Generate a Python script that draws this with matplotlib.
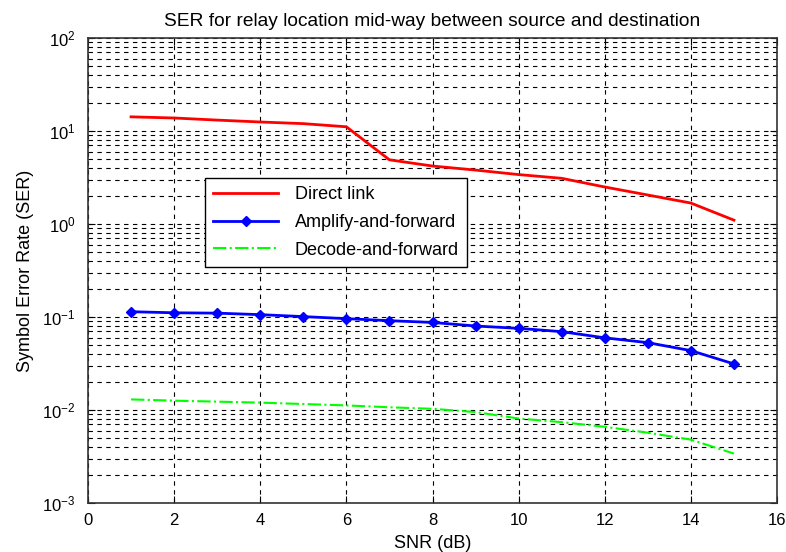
import matplotlib
matplotlib.use("Agg")
import matplotlib.pyplot as plt
from matplotlib.ticker import LogLocator, NullFormatter

plt.rcParams['font.family'] = ['Liberation Sans', 'DejaVu Sans']
plt.rcParams['mathtext.fontset'] = 'custom'
plt.rcParams['mathtext.rm'] = 'Liberation Sans'

# SNR values (dB)
snr = [1, 2, 3, 4, 5, 6, 7, 8, 9, 10, 11, 12, 13, 14, 15]

# SER curves
ser_direct = [14.2, 13.8, 13.1, 12.5, 12.0, 11.1, 4.9, 4.2, 3.8, 3.4, 3.1, 2.5, 2.05, 1.68, 1.1]
ser_af = [0.114, 0.111, 0.110, 0.106, 0.101, 0.096, 0.0913, 0.0874, 0.080, 0.0755,
          0.0696, 0.0597, 0.053, 0.0435, 0.0313]
ser_df = [0.0130, 0.0126, 0.0123, 0.0120, 0.0116, 0.0112, 0.0107, 0.0103, 0.0095, 0.0081,
          0.0074, 0.0066, 0.0057, 0.0048, 0.0034]

fig = plt.figure(figsize=(7.86, 5.52), dpi=100)
ax = fig.add_axes([88/786, 1 - 503/552, (777-88)/786, (503-38)/552])

ax.semilogy(snr, ser_direct, color='red', lw=2, label='Direct link')
ax.semilogy(snr, ser_af, color='blue', lw=2, marker='D', ms=5, label='Amplify-and-forward')
ax.semilogy(snr, ser_df, color='#00ff00', lw=1.5, ls='-.', label='Decode-and-forward')

ax.set_xlim(0, 16)
ax.set_ylim(1e-3, 1e2)
ax.set_xticks(range(0, 17, 2))
ax.yaxis.set_major_locator(LogLocator(base=10, numticks=10))
ax.yaxis.set_minor_locator(LogLocator(base=10, subs=range(2, 10), numticks=20))
ax.yaxis.set_minor_formatter(NullFormatter())

dash = (0, (4, 4))
ax.grid(True, which='major', color='black', ls=dash, lw=0.8)
ax.grid(True, which='minor', axis='y', color='black', ls=dash, lw=0.8)

ax.tick_params(which='both', direction='in', top=True, right=True, labelsize=12)
ax.tick_params(which='major', length=5)
ax.tick_params(axis='x', pad=7)
ax.tick_params(axis='y', pad=9)
ax.tick_params(which='minor', length=3)
for s in ax.spines.values():
    s.set_linewidth(1.2)
    s.set_color('#333333')

ax.set_title('SER for relay location mid-way between source and destination', fontsize=13.8, pad=9)
ax.set_xlabel('SNR (dB)', fontsize=13, labelpad=5)
ax.set_ylabel('Symbol Error Rate (SER)', fontsize=13, labelpad=6)

leg = ax.legend(loc='upper left', bbox_to_anchor=(0.17, 0.699), fontsize=13,
                fancybox=False, framealpha=1, edgecolor='black', handlelength=3.6,
                handletextpad=0.9, borderpad=0.45, labelspacing=0.6, borderaxespad=0)
leg.get_frame().set_linewidth(1.0)

fig.savefig('out.png', dpi=100)
